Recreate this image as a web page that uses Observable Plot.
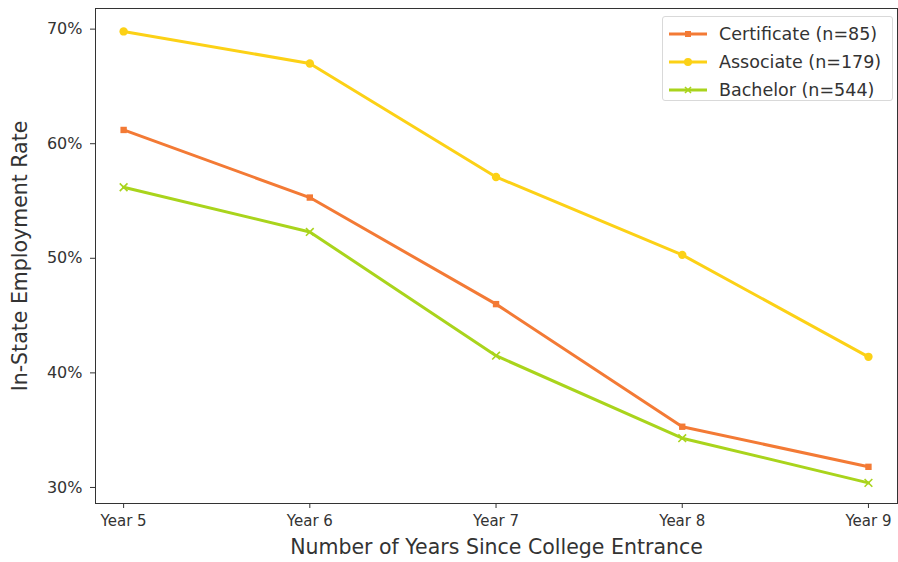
<!DOCTYPE html>
<html>
<head>
<meta charset="utf-8">
<script src="https://cdn.jsdelivr.net/npm/d3@7"></script>
<script src="https://cdn.jsdelivr.net/npm/@observablehq/plot@0.6"></script>
<style>
  html, body { margin: 0; padding: 0; background: #ffffff; }
  #wrap { position: relative; width: 898px; height: 562px; font-family: "DejaVu Sans", sans-serif; }
  #legend { position: absolute; left: 662px; top: 16px; width: 231px; height: 85px; box-sizing: border-box;
    border: 1px solid #d9d9d9; border-radius: 3px; background: rgba(255,255,255,0.9); padding: 3px 0 0 5px; }
  .item { display: flex; align-items: center; height: 28px; font-size: 17.5px; color: #333; }
  .item svg { margin-right: 11px; }
</style>
</head>
<body>
<div id="wrap"><div id="chart"></div><div id="legend"></div></div>
<script>
const yearNums = [5, 6, 7, 8, 9];
const yearLabels = ["Year 5", "Year 6", "Year 7", "Year 8", "Year 9"];
const seriesNames = ["Certificate (n=85)", "Associate (n=179)", "Bachelor (n=544)"];
const certificate = [61.2, 55.3, 46.0, 35.3, 31.8];
const associate = [69.8, 67.0, 57.1, 50.3, 41.4];
const bachelor = [56.2, 52.3, 41.5, 34.3, 30.4];
const yTicks = [30, 40, 50, 60, 70];
const colors = ["#f37a35", "#fcd116", "#a9d41c"];
const symbols = ["square", "circle", "times"];

const seriesValues = [certificate, associate, bachelor];
const data = seriesValues.flatMap((vals, i) =>
  vals.map((v, j) => ({series: seriesNames[i], x: yearNums[j], y: v})));

const chart = Plot.plot({
  width: 898,
  height: 562,
  marginLeft: 95,
  marginRight: 1,
  marginTop: 8,
  marginBottom: 59,
  style: {fontFamily: "DejaVu Sans, sans-serif", color: "#333", background: "transparent"},
  color: {domain: seriesNames, range: colors},
  x: {domain: [4.849, 9.156]},
  y: {domain: [28.6, 71.8]},
  marks: [
    Plot.frame({stroke: "#333", strokeWidth: 1}),
    Plot.line(data, {x: "x", y: "y", z: "series", stroke: "series", strokeWidth: 3}),
    Plot.dot(data.filter(d => d.series === seriesNames[0]), {x: "x", y: "y", symbol: "square", r: 3.6, fill: "series"}),
    Plot.dot(data.filter(d => d.series === seriesNames[1]), {x: "x", y: "y", symbol: "circle", r: 4.2, fill: "series"}),
    Plot.dot(data.filter(d => d.series === seriesNames[2]), {x: "x", y: "y", symbol: "times", r: 3.6, stroke: "series", strokeWidth: 1.6}),
    Plot.axisX({ticks: yearNums, tickFormat: d => yearLabels[yearNums.indexOf(d)], tickSize: 5, tickPadding: 7,
      fontSize: 15, label: "Number of Years Since College Entrance", labelAnchor: "center", labelOffset: 50, labelArrow: "none"}),
    Plot.axisY({ticks: yTicks, tickFormat: d => d + "%", tickSize: 5, tickPadding: 8, fontSize: 16,
      label: "In-State Employment Rate", labelAnchor: "center", labelOffset: 83, labelArrow: "none"})
  ]
});
chart.querySelectorAll("g[aria-label='x-axis label'] text, g[aria-label='y-axis label'] text").forEach(t => t.setAttribute("font-size", "20.5"));
document.getElementById("chart").appendChild(chart);

const legend = document.getElementById("legend");
seriesNames.forEach((name, i) => {
  const item = document.createElement("div");
  item.className = "item";
  let marker;
  if (symbols[i] === "square") marker = `<rect x="17" y="7" width="6" height="6" fill="${colors[i]}"/>`;
  else if (symbols[i] === "circle") marker = `<circle cx="20" cy="10" r="4" fill="${colors[i]}"/>`;
  else marker = `<path d="M17,7L23,13M23,7L17,13" stroke="${colors[i]}" stroke-width="1.6"/>`;
  item.innerHTML = `<svg width="40" height="20"><line x1="1" y1="10" x2="39" y2="10" stroke="${colors[i]}" stroke-width="3"/>${marker}</svg><span>${name}</span>`;
  legend.appendChild(item);
});
</script>
</body>
</html>
